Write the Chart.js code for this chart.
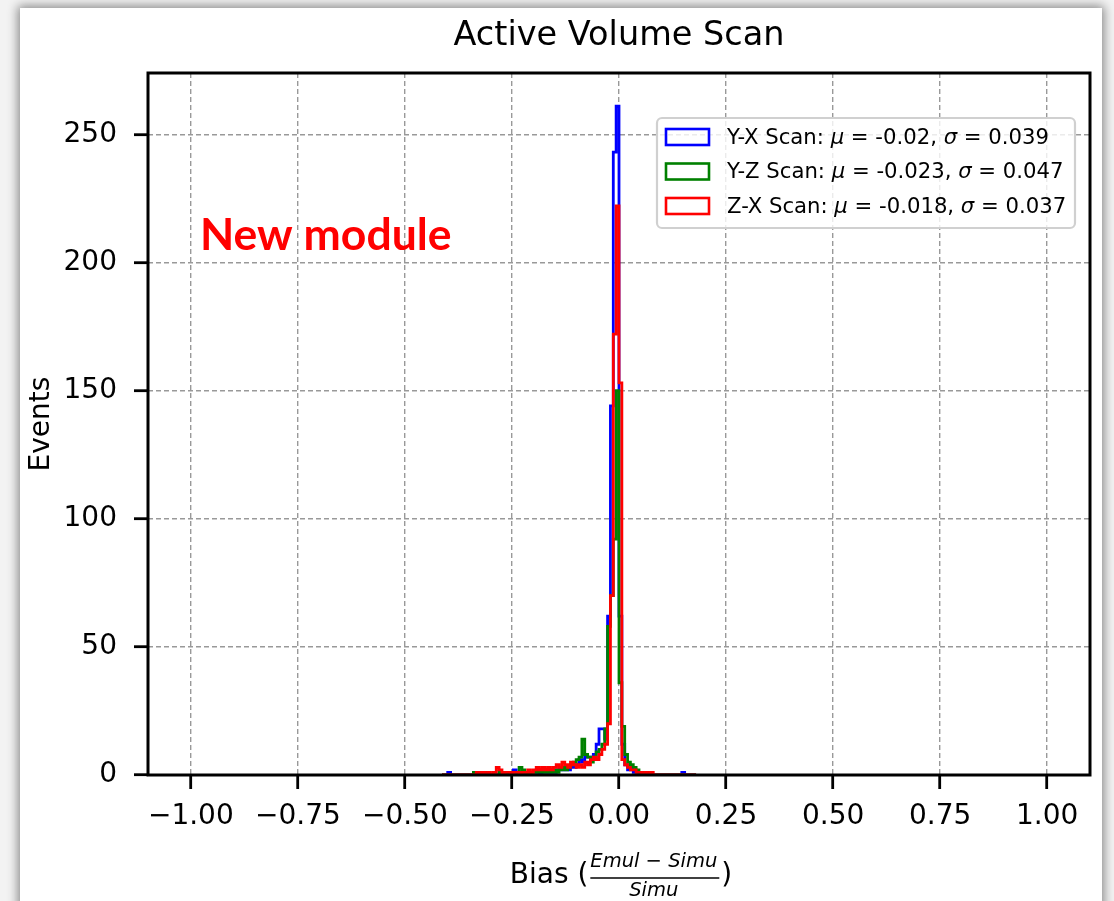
<!DOCTYPE html>
<html>
<head>
<meta charset="utf-8">
<script src="https://cdn.jsdelivr.net/npm/chart.js@4.4.0/dist/chart.umd.min.js"></script>
<style>
  html, body { margin: 0; padding: 0; width: 1114px; height: 901px; overflow: hidden; background: #f3f3f3; }
  #card { position: absolute; left: 20px; top: 8px; width: 1082px; height: 1000px; background: #fff;
          box-shadow: 0 0 10px 2px rgba(0,0,0,0.45); }
  #c { position: absolute; left: 0; top: 0; }
</style>
</head>
<body>
<div id="card"></div>
<canvas id="c" width="1114" height="901"></canvas>
<script>
// histogram: 300 bins over [-1, 1], only bins 88..176 are listed (rest are empty)
const binWidth = 2 / 300;
const firstBin = 88;

// Y-X scan counts
const yxCounts = [
  0, 0, 1, 0, 0, 0, 0, 0, 0, 0,      // 88-97
  0, 0, 0, 1, 0, 0, 0, 0, 0, 0,      // 98-107
  1, 0, 1, 0, 0, 2, 1, 0, 1, 1,      // 108-117
  0, 1, 1, 2, 0, 1, 2, 1, 2, 1,      // 118-127
  2, 3, 2, 3, 2, 4, 3, 4, 6, 5,      // 128-137
  8, 7, 6, 8, 12, 18, 18, 14, 62, 144, // 138-147
  243, 261, 62, 12, 4, 2, 3, 1, 1, 0, // 148-157
  1, 0, 0, 0, 0, 0, 0, 0, 0, 0,      // 158-167
  0, 0, 0, 0, 1, 0, 0, 0, 0          // 168-176
];
// Y-Z scan counts
const yzCounts = [
  0, 0, 0, 0, 0, 0, 0, 0, 0, 0,
  0, 1, 0, 1, 0, 1, 0, 0, 0, 0,
  1, 0, 1, 0, 1, 1, 1, 3, 2, 1,
  0, 1, 1, 1, 2, 1, 1, 2, 1, 2,
  1, 2, 3, 2, 3, 4, 5, 6, 7, 14,
  8, 7, 5, 7, 9, 10, 12, 18, 58, 70,
  92, 150, 36, 19, 8, 5, 4, 3, 2, 1,
  1, 1, 1, 0, 0, 0, 0, 0, 0, 0,
  0, 0, 0, 0, 0, 0, 0, 0, 0
];
// Z-X scan counts
const zxCounts = [
  0, 0, 0, 0, 0, 0, 0, 0, 0, 0,
  0, 0, 1, 0, 1, 0, 1, 0, 1, 3,
  2, 0, 1, 1, 0, 1, 1, 0, 1, 1,
  2, 1, 2, 3, 2, 3, 2, 3, 2, 3,
  4, 3, 5, 4, 3, 5, 4, 3, 4, 3,
  5, 4, 6, 7, 6, 8, 10, 12, 20, 70,
  172, 222, 153, 6, 4, 3, 2, 2, 1, 1,
  0, 1, 0, 1, 0, 0, 0, 0, 0, 0,
  0, 0, 0, 0, 0, 0, 0, 0, 0
];

const seriesNames = ['Y-X Scan', 'Y-Z Scan', 'Z-X Scan'];
const seriesMu = ['-0.02', '-0.023', '-0.018'];
const seriesSigma = ['0.039', '0.047', '0.037'];
const seriesColors = ['#0000ff', '#008000', '#ff0000'];
const xTicks = [-1, -0.75, -0.5, -0.25, 0, 0.25, 0.5, 0.75, 1];
const yTicks = [0, 50, 100, 150, 200, 250];

const FONT = "'DejaVu Sans', sans-serif";

// outline points of a step histogram
function stepPoints(counts) {
  const edge = i => -1 + (firstBin + i) * binWidth;
  const pts = [{ x: edge(0), y: 0 }];
  counts.forEach((c, i) => pts.push({ x: edge(i), y: c }));
  pts.push({ x: edge(counts.length), y: 0 });
  return pts;
}

const allCounts = [yxCounts, yzCounts, zxCounts];
const datasets = allCounts.map((counts, i) => ({
  label: seriesNames[i],
  data: stepPoints(counts),
  borderColor: seriesColors[i],
  borderWidth: 2.8,
  stepped: true,
  pointRadius: 0,
  fill: false,
  order: 3 - i
}));

// draw text made of pieces, some italic
function drawRuns(ctx, runs, x, y, size) {
  runs.forEach(r => {
    ctx.font = (r.it ? 'oblique ' : '') + size + 'px ' + FONT;
    ctx.fillText(r.t, x, y);
    x += ctx.measureText(r.t).width;
  });
  return x;
}
function runsWidth(ctx, runs, size) {
  let w = 0;
  runs.forEach(r => {
    ctx.font = (r.it ? 'oblique ' : '') + size + 'px ' + FONT;
    w += ctx.measureText(r.t).width;
  });
  return w;
}

const decor = {
  id: 'decor',
  afterDraw(chart) {
    const ctx = chart.ctx;
    const a = chart.chartArea;
    ctx.save();

    // axes frame
    ctx.strokeStyle = '#000';
    ctx.lineWidth = 3;
    ctx.strokeRect(a.left, a.top, a.right - a.left, a.bottom - a.top);

    ctx.fillStyle = '#000';
    ctx.textBaseline = 'middle';

    // title
    ctx.textAlign = 'center';
    ctx.font = '33.5px ' + FONT;
    ctx.fillText('Active Volume Scan', (a.left + a.right) / 2, 36);

    // y label
    ctx.save();
    ctx.translate(42, (a.top + a.bottom) / 2);
    ctx.rotate(-Math.PI / 2);
    ctx.font = '28px ' + FONT;
    ctx.fillText('Events', 0, 0);
    ctx.restore();

    // x label: Bias (Emul - Simu / Simu)
    ctx.textAlign = 'left';
    const mid = (a.left + a.right) / 2 + 2;
    ctx.font = '28px ' + FONT;
    const head = 'Bias (';
    const headW = ctx.measureText(head).width;
    const num = [{ t: 'Emul', it: true }, { t: ' \u2212 ', it: false }, { t: 'Simu', it: true }];
    const numW = runsWidth(ctx, num, 19.5);
    ctx.font = '28px ' + FONT;
    const tailW = ctx.measureText(')').width;
    const total = headW + numW + 6 + tailW;
    const x0 = mid - total / 2;
    ctx.font = '28px ' + FONT;
    ctx.fillText(head, x0, 876);
    const fx = x0 + headW + 2;
    drawRuns(ctx, num, fx, 862, 19.5);
    ctx.lineWidth = 1.4;
    ctx.beginPath();
    ctx.moveTo(fx, 878);
    ctx.lineTo(fx + numW + 2, 878);
    ctx.stroke();
    const denW = runsWidth(ctx, [{ t: 'Simu', it: true }], 19.5);
    drawRuns(ctx, [{ t: 'Simu', it: true }], fx + (numW - denW) / 2, 891, 19.5);
    ctx.font = '28px ' + FONT;
    ctx.fillText(')', fx + numW + 4, 876);

    // annotation
    ctx.fillStyle = '#ff0000';
    ctx.font = 'bold 44.5px Lato, sans-serif';
    ctx.fillText('New module', 200, 236);

    // legend
    const lx = 657, ly = 118, lw = 418, lh = 110;
    ctx.beginPath();
    ctx.roundRect(lx, ly, lw, lh, 5);
    ctx.fillStyle = 'rgba(255,255,255,0.8)';
    ctx.fill();
    ctx.strokeStyle = '#d0d0d0';
    ctx.lineWidth = 2.2;
    ctx.stroke();
    const rows = [137, 171.5, 206];
    seriesNames.forEach((name, i) => {
      ctx.strokeStyle = seriesColors[i];
      ctx.lineWidth = 2.6;
      ctx.strokeRect(666, rows[i] - 8, 43, 16);
      ctx.fillStyle = '#000';
      drawRuns(ctx, [
        { t: name + ': ', it: false },
        { t: '\u03bc', it: true },
        { t: ' = ' + seriesMu[i] + ', ', it: false },
        { t: '\u03c3', it: true },
        { t: ' = ' + seriesSigma[i], it: false }
      ], 727, rows[i] + 1, 21.2);
    });

    ctx.restore();
  }
};

const fmtX = v => (v < 0 ? '\u2212' : '') + Math.abs(v).toFixed(2);

new Chart(document.getElementById('c'), {
  type: 'line',
  data: { datasets: datasets },
  options: {
    responsive: false,
    animation: false,
    devicePixelRatio: 1,
    layout: { padding: { top: 73, right: 24, left: 0, bottom: 0 } },
    plugins: { legend: { display: false }, title: { display: false }, tooltip: { enabled: false } },
    scales: {
      x: {
        type: 'linear',
        min: -1.1,
        max: 1.1,
        z: 1,
        afterBuildTicks: s => { s.ticks = xTicks.map(v => ({ value: v })); },
        afterFit: s => { s.height = 126; },
        ticks: {
          callback: v => fmtX(v),
          font: { family: 'DejaVu Sans', size: 28 },
          color: '#000',
          padding: 11,
          maxRotation: 0,
          autoSkip: false
        },
        grid: {
          color: '#999999',
          lineWidth: 1.4,
          borderDash: [5, 3],
          tickLength: 14,
          tickColor: '#000',
          tickWidth: 2.8,
          tickBorderDash: []
        },
        border: { display: false, dash: [5, 3] }
      },
      y: {
        type: 'linear',
        min: 0,
        max: 273.9,
        z: 1,
        afterBuildTicks: s => { s.ticks = yTicks.map(v => ({ value: v })); },
        afterFit: s => { s.width = 148; },
        ticks: {
          font: { family: 'DejaVu Sans', size: 28 },
          color: '#000',
          padding: 17
        },
        grid: {
          color: '#999999',
          lineWidth: 1.4,
          borderDash: [5, 3],
          tickLength: 14,
          tickColor: '#000',
          tickWidth: 2.8,
          tickBorderDash: []
        },
        border: { display: false, dash: [5, 3] }
      }
    }
  },
  plugins: [decor]
});
</script>
</body>
</html>
